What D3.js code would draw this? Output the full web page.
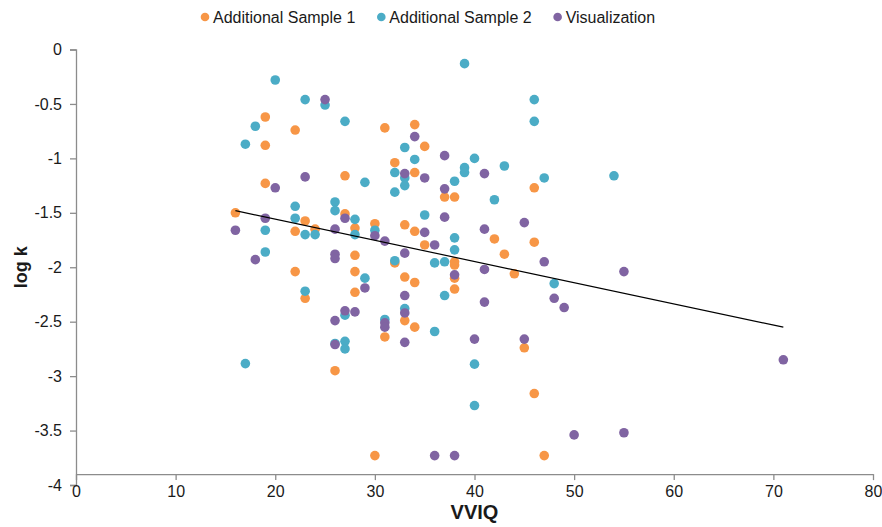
<!DOCTYPE html>
<html>
<head>
<meta charset="utf-8">
<script src="https://cdn.jsdelivr.net/npm/d3@7"></script>
<style>
  body { margin: 0; background: #fff; }
  svg { display: block; font-family: "Liberation Sans", Arial, Helvetica, sans-serif; }
</style>
</head>
<body>
<svg id="chart" width="882" height="527"></svg>
<script>
// series names and colours
const seriesNames = ['Additional Sample 1', 'Additional Sample 2', 'Visualization'];
const seriesColors = ['#F79646', '#4BACC6', '#8064A2'];

// Additional Sample 1 (VVIQ, log k)
const sample1X = [16, 19, 19, 19, 22, 22, 22, 23, 23, 24, 27, 27, 28, 28, 28, 28, 26, 30, 30, 31, 31, 32, 32, 33, 33, 33,
  34, 34, 34, 34, 34, 35, 35, 37, 38, 38, 38, 38, 38, 42, 43, 44, 45, 46, 46, 46, 47];
const sample1Y = [-1.50, -0.62, -0.88, -1.23, -0.74, -1.67, -2.04, -1.575, -2.285, -1.65, -1.16, -1.51, -1.64, -1.89, -2.04, -2.23,
  -2.95, -1.60, -3.73, -0.72, -2.64, -1.04, -1.96, -1.61, -2.09, -2.49, -0.69, -1.13, -1.67, -2.14, -2.55, -0.89, -1.795,
  -1.355, -1.355, -1.95, -1.98, -2.10, -2.20, -1.74, -1.88, -2.06, -2.74, -1.27, -1.77, -3.16, -3.73];

// Additional Sample 2
const sample2X = [17, 17, 18, 19, 19, 20, 22, 22, 23, 23, 23, 24, 25, 26, 26, 26, 27, 27, 27, 27, 28, 28, 29, 29, 30, 31,
  32, 32, 32, 33, 33, 33, 33, 34, 35, 36, 36, 37, 37, 38, 38, 38, 39, 39, 39, 40, 40, 40, 42, 43, 46, 46, 47, 48, 54];
const sample2Y = [-0.87, -2.885, -0.705, -1.66, -1.86, -0.28, -1.44, -1.55, -0.46, -1.70, -2.22, -1.70, -0.51, -1.40, -1.48,
  -2.70, -0.66, -2.44, -2.68, -2.75, -1.56, -1.70, -1.22, -2.10, -1.66, -2.48, -1.13, -1.31, -1.94, -0.90, -1.18, -1.25,
  -2.38, -1.01, -1.52, -1.96, -2.59, -1.95, -2.26, -1.21, -1.73, -1.84, -0.13, -1.085, -1.13, -1.00, -2.89, -3.27, -1.38,
  -1.07, -0.46, -0.66, -1.18, -2.15, -1.16];

// Visualization
const visX = [16, 18, 19, 20, 23, 25, 26, 26, 26, 26, 26, 27, 27, 28, 29, 30, 31, 31, 31, 33, 33, 33, 33, 33, 34, 35, 35,
  36, 36, 37, 37, 37, 38, 38, 41, 41, 41, 41, 40, 45, 45, 47, 48, 49, 50, 55, 55, 71];
const visY = [-1.66, -1.93, -1.55, -1.27, -1.17, -0.46, -1.65, -1.88, -1.92, -2.49, -2.71, -1.55, -2.40, -2.41, -2.19, -1.71,
  -1.76, -2.51, -2.55, -1.14, -1.87, -2.26, -2.42, -2.69, -0.80, -1.18, -1.68, -1.795, -3.73, -0.975, -1.28, -1.54, -2.07,
  -3.73, -1.14, -1.65, -2.02, -2.32, -2.66, -1.59, -2.66, -1.95, -2.285, -2.37, -3.54, -2.04, -3.52, -2.85];

// linear trendline end points as drawn
const trendX = [16, 71];
const trendY = [-1.48, -2.55];

// axis ticks
const xTicks = [0, 10, 20, 30, 40, 50, 60, 70, 80];
const yTicks = [0, -0.5, -1, -1.5, -2, -2.5, -3, -3.5, -4];
const xAxisCross = -3.9; // the horizontal axis sits slightly above the -4 tick

const svg = d3.select('#chart');

const x = d3.scaleLinear().domain([0, 80]).range([76, 873]);
const y = d3.scaleLinear().domain([-4, 0]).range([485, 49.5]);

const axisColor = '#8c8c8c';
const textColor = '#1a1a1a';

// y axis
const yAxis = svg.append('g')
  .attr('transform', `translate(${x(0)},0)`)
  .call(d3.axisLeft(y).tickValues(yTicks).tickSize(6).tickPadding(8)
    .tickFormat(d => d === 0 ? '0' : String(d)));
yAxis.select('.domain').attr('stroke', axisColor).attr('stroke-width', 1.3);
yAxis.selectAll('.tick line').attr('stroke', axisColor).attr('stroke-width', 1.3);
yAxis.selectAll('.tick text')
  .attr('fill', textColor)
  .attr('font-size', '16px')
  .attr('font-family', '"Liberation Sans", Arial, sans-serif');

// x axis
const xAxis = svg.append('g')
  .attr('transform', `translate(0,${y(xAxisCross)})`)
  .call(d3.axisBottom(x).tickValues(xTicks).tickSize(6).tickSizeOuter(0).tickPadding(6)
    .tickFormat(d3.format('d')));
xAxis.select('.domain').attr('stroke', axisColor).attr('stroke-width', 1.3);
xAxis.selectAll('.tick line').attr('stroke', axisColor).attr('stroke-width', 1.3);
xAxis.selectAll('.tick text')
  .attr('fill', textColor)
  .attr('font-size', '16px')
  .attr('font-family', '"Liberation Sans", Arial, sans-serif');

// axis titles
svg.append('text')
  .attr('x', x(40))
  .attr('y', 519)
  .attr('text-anchor', 'middle')
  .attr('font-size', '20px')
  .attr('font-weight', 'bold')
  .attr('fill', textColor)
  .text('VVIQ');

svg.append('text')
  .attr('transform', `translate(27, ${y(-2)}) rotate(-90)`)
  .attr('text-anchor', 'middle')
  .attr('font-size', '18px')
  .attr('font-weight', 'bold')
  .attr('fill', textColor)
  .text('log k');

// scatter points, drawn series by series so the later ones sit on top
const allSeries = [
  { xs: sample1X, ys: sample1Y },
  { xs: sample2X, ys: sample2Y },
  { xs: visX, ys: visY }
];

allSeries.forEach((s, i) => {
  const pts = s.xs.map((v, j) => ({ x: v, y: s.ys[j] }));
  svg.append('g')
    .selectAll('circle')
    .data(pts)
    .enter()
    .append('circle')
    .attr('cx', d => x(d.x))
    .attr('cy', d => y(d.y))
    .attr('r', 4.8)
    .attr('fill', seriesColors[i]);
});

// trendline
const line = d3.line().x(d => x(d[0])).y(d => y(d[1]));
svg.append('path')
  .attr('d', line(trendX.map((v, i) => [v, trendY[i]])))
  .attr('fill', 'none')
  .attr('stroke', '#000')
  .attr('stroke-width', 1.2);

// legend across the top
const legend = svg.append('g').attr('transform', 'translate(205,17)');
let cursor = 0;
seriesNames.forEach((name, i) => {
  const item = legend.append('g').attr('transform', `translate(${cursor},0)`);
  item.append('circle')
    .attr('cx', 0)
    .attr('cy', 0)
    .attr('r', 4.3)
    .attr('fill', seriesColors[i]);
  const t = item.append('text')
    .attr('x', 8)
    .attr('y', 5.5)
    .attr('font-size', '16px')
    .attr('fill', textColor)
    .text(name);
  cursor += 8 + t.node().getComputedTextLength() + 26;
});
</script>
</body>
</html>
